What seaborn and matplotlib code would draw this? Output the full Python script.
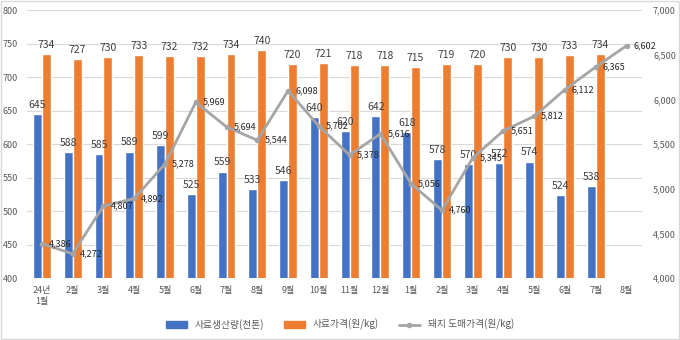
import matplotlib
matplotlib.use("Agg")
import matplotlib.pyplot as plt
import seaborn as sns
import pandas as pd
import numpy as np
from matplotlib.patches import Rectangle
from matplotlib.ticker import FuncFormatter, MultipleLocator

months = ["24년\n1월", "2월", "3월", "4월", "5월", "6월", "7월", "8월", "9월", "10월",
          "11월", "12월", "1월", "2월", "3월", "4월", "5월", "6월", "7월", "8월"]
feed_prod = [645, 588, 585, 589, 599, 525, 559, 533, 546, 640, 620, 642, 618, 578,
             570, 572, 574, 524, 538]
feed_price = [734, 727, 730, 733, 732, 732, 734, 740, 720, 721, 718, 718, 715, 719,
              720, 730, 730, 733, 734]
pig_price = [4386, 4272, 4807, 4892, 5278, 5969, 5694, 5544, 6098, 5702, 5378, 5616,
             5056, 4760, 5345, 5651, 5812, 6112, 6365, 6602]

s1 = "사료생산량(천톤)"
s2 = "사료가격(원/kg)"
s3 = "돼지 도매가격(원/kg)"

sns.set_style("white")
plt.rcParams['font.family'] = ['Noto Sans CJK KR', 'DejaVu Sans']

rows = []
for i, v in enumerate(feed_prod):
    rows.append({"idx": i, "series": s1, "value": v})
for i, v in enumerate(feed_price):
    rows.append({"idx": i, "series": s2, "value": v})
bars = pd.DataFrame(rows)
line = pd.DataFrame({"idx": list(range(len(pig_price))), "value": pig_price})

fig = plt.figure(figsize=(6.8, 3.4), dpi=100)
ax = fig.add_axes([0.039, 0.182, 0.905, 0.788])

sns.barplot(data=bars, x="idx", y="value", hue="series", order=list(range(len(months))),
            hue_order=[s1, s2], palette=["#4472C4", "#ED7D31"], width=0.58, gap=0,
            ax=ax, legend=False, errorbar=None, saturation=1)

ax.set_ylim(400, 800)
ax.yaxis.set_major_locator(MultipleLocator(50))
ax.set_xlim(-0.5, len(months) - 0.5)
ax.set_xticks(range(len(months)))
ax.set_xticklabels(months)
ax.grid(axis='y', color="#D9D9D9", linewidth=0.8)
ax.set_axisbelow(True)
for sp in ax.spines.values():
    sp.set_visible(False)
ax.tick_params(axis='both', length=0, labelsize=6.5, colors="#595959", pad=6)
ax.set_xlabel("")
ax.set_ylabel("")

for cont in ax.containers:
    ax.bar_label(cont, padding=3, fontsize=7.5, color="#404040")

ax2 = ax.twinx()
sns.lineplot(data=line, x="idx", y="value", color="#A5A5A5", linewidth=2,
             marker="o", markersize=4, markeredgewidth=0, ax=ax2)
ax2.set_ylim(4000, 7000)
ax2.yaxis.set_major_locator(MultipleLocator(500))
ax2.yaxis.set_major_formatter(FuncFormatter(lambda v, p: f"{int(v):,}"))
for sp in ax2.spines.values():
    sp.set_visible(False)
ax2.tick_params(axis='both', length=0, labelsize=6.5, colors="#595959", pad=8)
ax2.set_xlabel("")
ax2.set_ylabel("")
ax2.grid(False)
ax2.set_xlim(-0.5, len(months) - 0.5)

for i, v in enumerate(pig_price):
    ax2.annotate(f"{v:,}", (i, v), xytext=(5, 0), textcoords="offset points",
                 ha="left", va="center", fontsize=6.5, color="#262626")

from matplotlib.patches import Patch
from matplotlib.lines import Line2D
handles = [Patch(color="#4472C4"), Patch(color="#ED7D31"),
           Line2D([0], [0], color="#A5A5A5", linewidth=2, marker="o", markersize=4,
                  markeredgewidth=0)]
fig.legend(handles, [s1, s2, s3], loc="center", bbox_to_anchor=(0.5, 0.045), ncol=3,
           frameon=False, fontsize=7, handlelength=2.2, handleheight=0.6,
           columnspacing=2.0, labelcolor="#595959")

fig.patches.append(Rectangle((0.001, 0.002), 0.997, 0.995, transform=fig.transFigure,
                             fill=False, edgecolor="#D9D9D9", linewidth=1))

fig.savefig("out.png", dpi=100)
